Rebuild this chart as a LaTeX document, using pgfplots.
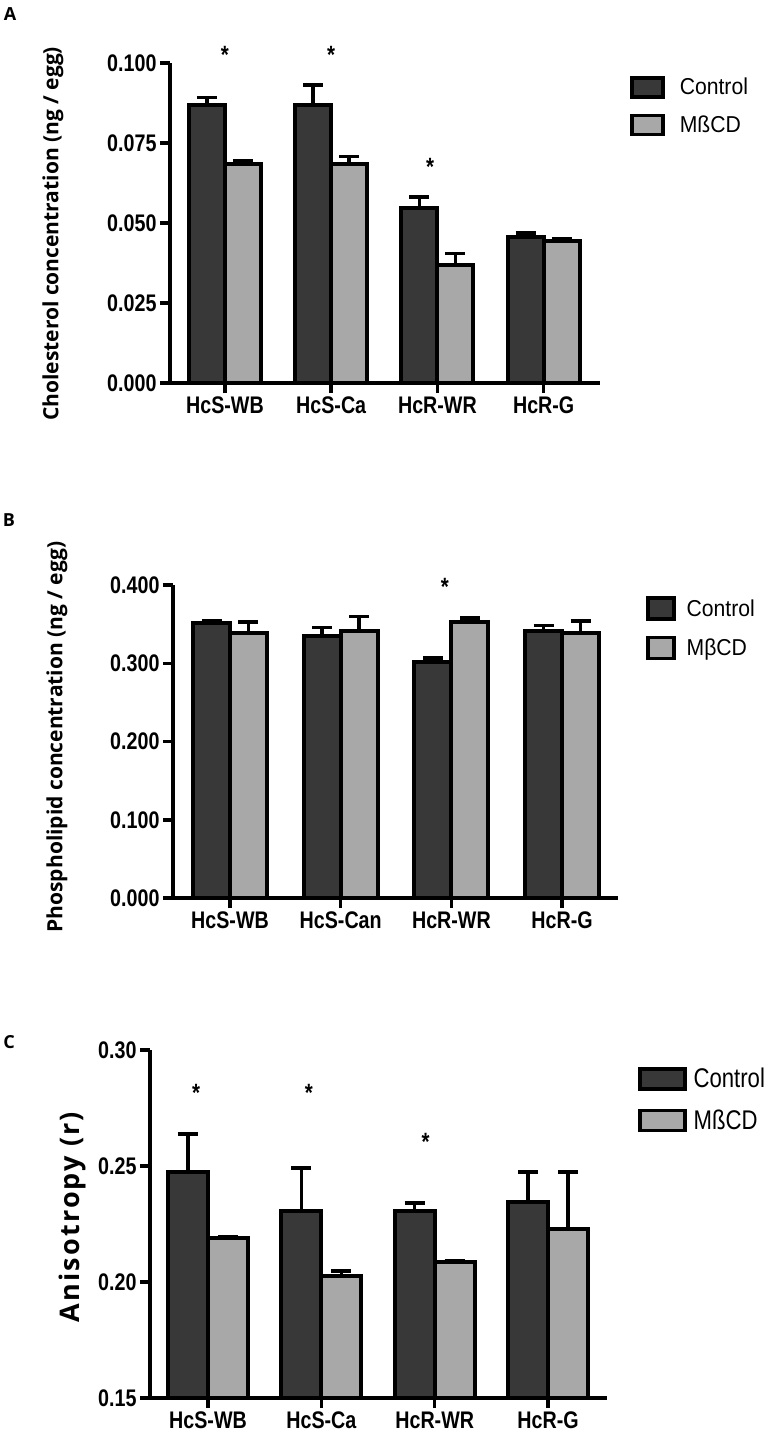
\documentclass[border=0pt]{standalone}
\usepackage{fontspec}
\setmainfont{Liberation Sans}
\newfontfamily\tickfont[FakeStretch=0.82]{Liberation Sans}
\newfontfamily\legfont[FakeStretch=0.92]{Liberation Sans}
\newfontfamily\labfont{Open Sans}
\usepackage{pgfplots}
\usepackage{pgfplotstable}
\pgfplotsset{compat=1.18}

\definecolor{cdark}{HTML}{383838}
\definecolor{clight}{HTML}{A8A8A8}

% columns: group, control, control error, MbCD, MbCD error
\pgfplotstableread{
x c ce m me
0 0.0870 0.0022 0.0683 0.0013
1 0.0870 0.0062 0.0683 0.0025
2 0.0547 0.0035 0.0370 0.0034
3 0.0457 0.0012 0.0444 0.0006
}\dataA
\pgfplotstableread{
x c ce m me
0 0.351 0.003 0.339 0.014
1 0.335 0.011 0.341 0.019
2 0.302 0.005 0.353 0.005
3 0.341 0.007 0.339 0.015
}\dataB
\pgfplotstableread{
x c ce m me
0 0.2474 0.0164 0.2190 0.0006
1 0.2306 0.0185 0.2026 0.0021
2 0.2306 0.0034 0.2086 0.0005
3 0.2345 0.0130 0.2228 0.0246
}\dataC

\tikzset{
  star/.style={font=\tickfont\bfseries\fontsize{25}{25}\selectfont, yshift=-5pt},
  ylab/.style={font=\labfont\bfseries\fontsize{#1}{#1}\selectfont},
}
\pgfplotsset{
  panel/.style={
    scale only axis, anchor=south west,
    axis x line=bottom, axis y line=left,
    axis line style={line width=4pt,-},
    xtick={0,1,2,3}, minor tick num=0,
    tick align=outside, major tick length=10pt,
    tick style={line width=3.5pt,black},
    scaled y ticks=false,
    clip mode=individual,
    ticklabel style={font=\tickfont\bfseries\fontsize{24}{28}\selectfont},
    yticklabel style={/pgf/number format/.cd,fixed,fixed zerofill,assume math mode=true},
    legend style={draw=none, fill=none, anchor=north west,
      nodes={inner sep=0pt}},
    legend cell align=left,
  },
  bars/.style={ybar, bar shift=0pt, draw=black, line width=4pt, fill=#1,
    error bars/.cd, y dir=plus, y explicit, error mark=|,
    error bar style={line width=3.5pt,black},
    error mark options={line width=3.5pt,black,mark size=10pt}},
}

\begin{document}
\begin{tikzpicture}
\path[use as bounding box] (0,0) rectangle (767pt,-1437pt);

% ---------- A ----------
\node[font=\labfont\bfseries\fontsize{18}{20}\selectfont] at (10pt,-14pt) {A};
\begin{axis}[panel,
  at={(170pt,-383pt)}, width=430pt, height=320pt,
  xmin=-0.517, xmax=3.53, ymin=0, ymax=0.1,
  ytick={0,0.025,0.05,0.075,0.1},
  yticklabel style={/pgf/number format/precision=3},
  xticklabels={HcS-WB,HcS-Ca,HcR-WR,HcR-G},
  ylabel={Cholesterol concentration (ng / egg)},
  every axis y label/.style={at={(axis description cs:-0.272,0.466)}, rotate=90, anchor=center, ylab=21},
  bar width=0.339,
  legend style={at={(1.063,0.966)}, font=\legfont\fontsize{23}{27}\selectfont,
    /tikz/every odd column/.append style={column sep=15pt}, row sep=15pt},
  legend image code/.code={\draw[#1,line width=3.5pt] (0pt,-9.5pt) rectangle (31pt,9.5pt);},
]
\addplot[bars=cdark] table[x expr=\thisrow{x}-0.1695,y=c,y error=ce] {\dataA};
\addplot[bars=clight] table[x expr=\thisrow{x}+0.1695,y=m,y error=me] {\dataA};
\legend{Control,MßCD}
\node[star] at (axis cs:0,0.104) {*};
\node[star] at (axis cs:1,0.104) {*};
\node[star] at (axis cs:1.93,0.069) {*};
\end{axis}

% ---------- B ----------
\node[font=\labfont\bfseries\fontsize{18}{20}\selectfont] at (9pt,-520pt) {B};
\begin{axis}[panel,
  at={(173pt,-898pt)}, width=445pt, height=313pt,
  xmin=-0.515, xmax=3.505, ymin=0, ymax=0.4,
  ytick={0,0.1,0.2,0.3,0.4},
  yticklabel style={/pgf/number format/precision=3},
  xticklabels={HcS-WB,HcS-Can,HcR-WR,HcR-G},
  ylabel={Phospholipid concentration (ng / egg)},
  every axis y label/.style={at={(axis description cs:-0.261,0.514)}, rotate=90, anchor=center, ylab=21},
  bar width=0.334,
  legend style={at={(1.056,0.971)}, font=\legfont\fontsize{23}{27}\selectfont,
    /tikz/every odd column/.append style={column sep=11pt}, row sep=15pt},
  legend image code/.code={\draw[#1,line width=3.5pt] (0pt,-10.5pt) rectangle (26pt,10.5pt);},
]
\addplot[bars=cdark] table[x expr=\thisrow{x}-0.167,y=c,y error=ce] {\dataB};
\addplot[bars=clight] table[x expr=\thisrow{x}+0.167,y=m,y error=me] {\dataB};
\legend{Control,MβCD}
\node[star] at (axis cs:1.94,0.404) {*};
\end{axis}

% ---------- C ----------
\node[font=\labfont\bfseries\fontsize{18}{20}\selectfont] at (9pt,-1042pt) {C};
\begin{axis}[panel,
  at={(150pt,-1398pt)}, width=457pt, height=348pt,
  xmin=-0.512, xmax=3.52, ymin=0.15, ymax=0.30,
  ytick={0.15,0.2,0.25,0.3},
  yticklabel style={/pgf/number format/precision=2},
  xticklabels={HcS-WB,HcS-Ca,HcR-WR,HcR-G},
  ylabel={Anisotropy (r)},
  every axis y label/.style={at={(axis description cs:-0.17,0.52)}, rotate=90, anchor=center,
    font=\labfont\bfseries\fontsize{27}{27}\selectfont\addfontfeatures{LetterSpace=8}},
  bar width=0.353,
  legend style={at={(1.061,0.957)}, font=\tickfont\fontsize{27}{30}\selectfont,
    /tikz/every odd column/.append style={column sep=7pt}, row sep=18pt},
  legend image code/.code={\draw[#1,line width=3.5pt] (0pt,-10pt) rectangle (45pt,10pt);},
]
\addplot[bars=cdark] table[x expr=\thisrow{x}-0.1765,y=c,y error=ce] {\dataC};
\addplot[bars=clight] table[x expr=\thisrow{x}+0.1765,y=m,y error=me] {\dataC};
\legend{Control,MßCD}
\node[star] at (axis cs:-0.106,0.2836) {*};
\node[star] at (axis cs:0.89,0.2836) {*};
\node[star] at (axis cs:1.92,0.2625) {*};
\end{axis}
\end{tikzpicture}
\end{document}
